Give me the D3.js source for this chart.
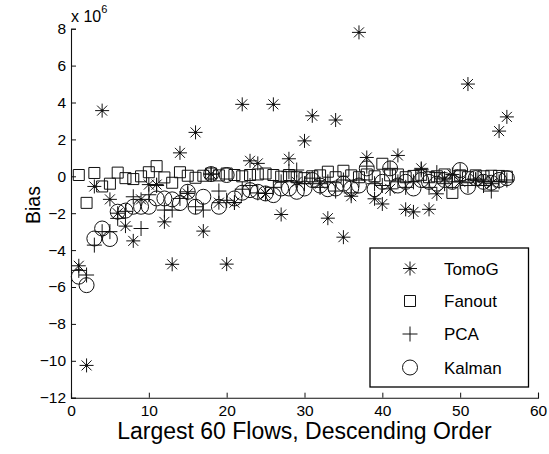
<!DOCTYPE html>
<html>
<head>
<meta charset="utf-8">
<script src="https://cdn.jsdelivr.net/npm/d3@7"></script>
<style>
  html, body { margin: 0; padding: 0; background: #fff; }
  svg { display: block; font-family: "Liberation Sans", Arial, Helvetica, sans-serif; }
</style>
</head>
<body>
<svg id="chart" width="549" height="454"></svg>
<script>
// Bias (in units of 1e6) of each estimator for the largest flows, in descending order
const flows = d3.range(1, 57);

const tomoG = [
  -4.85, -10.25, -0.55, 3.56, -1.25, -2.0, -2.7, -3.5, -1.25, -0.45,
  -0.45, -2.47, -4.77, 1.27, -0.93, 2.38, -2.97, 0.12, -1.43, -4.76,
  -1.43, 3.9, 0.84, 0.7, -0.93, 3.9, -2.07, 0.95, -0.3, 1.92,
  3.28, -0.4, -2.27, 3.05, -3.3, -1.08, 7.8, 1.02, -1.22, -1.5,
  -0.68, 1.13, -1.79, -1.93, 0.43, -1.79, -0.95, -0.1, 0.1, -0.3,
  5.0, -0.15, -0.3, -0.4, 2.45, 3.22
];

const fanout = [
  0.07, -1.44, 0.18, -0.55, -0.4, 0.2, -0.1, -0.15, 0.0, 0.22,
  0.55, -0.06, -0.35, 0.22, 0.03, -0.08, 0.03, 0.15, 0.05, 0.15,
  0.07, 0.0, 0.07, 0.1, 0.15, 0.07, -0.02, 0.07, -0.05, -0.1,
  0.0, 0.05, 0.25, -0.05, 0.3, 0.05, -0.05, 0.1, 0.0, 0.68,
  0.05, 0.1, -0.05, 0.02, 0.08, -0.05, 0.0, 0.1, -0.9, 0.05,
  -0.05, 0.05, 0.0, 0.03, 0.02, -0.02
];

const pca = [
  -5.1, -5.35, -3.73, -3.0, -3.0, -2.28, -1.9, -1.11, -2.83, -1.0,
  -0.5, -1.83, -1.83, -1.2, -0.84, -1.65, -1.83, 0.12, -0.8, -1.3,
  -1.42, -0.7, -0.5, -0.9, -0.93, -0.6, -0.3, 0.25, 0.34, -0.4,
  -0.1, -0.6, -0.3, -0.8, -0.2, -0.9, -0.2, 0.55, -0.4, -0.5,
  0.43, -0.3, -0.6, -0.3, 0.35, -0.6, 0.2, -0.4, -0.3, 0.3,
  -0.5, -0.2, -0.5, -0.8, -0.3, -0.2
];

const kalman = [
  -5.44, -5.9, -3.37, -2.83, -3.4, -1.92, -1.86, -1.65, -1.65, -1.65,
  -1.2, -1.2, -1.25, -1.45, -0.84, -1.65, -1.11, 0.12, -1.65, 0.07,
  -1.2, -0.89, -0.75, -0.84, -0.93, -1.02, -0.66, -0.66, -0.84, -0.66,
  -0.2, -0.5, -0.7, -0.66, -0.4, -0.66, -0.5, 0.43, -0.7, -0.3,
  0.43, -0.5, -0.3, -0.66, -0.2, -0.3, -0.4, -0.2, -0.3, 0.34,
  -0.57, -0.1, -0.3, -0.35, -0.2, -0.1
];

const seriesNames = ["TomoG", "Fanout", "PCA", "Kalman"];
const seriesValues = [tomoG, fanout, pca, kalman];
const markerKinds = ["star", "square", "plus", "circle"];

const xTicks = [0, 10, 20, 30, 40, 50, 60];
const yTicks = [-12, -10, -8, -6, -4, -2, 0, 2, 4, 6, 8];

const svg = d3.select("#chart");
const plotLeft = 71, plotRight = 538, plotTop = 28.7, plotBottom = 397.7;

const x = d3.scaleLinear().domain([0, 60]).range([plotLeft, plotRight]);
const y = d3.scaleLinear().domain([-12, 8]).range([plotBottom, plotTop]);

const ink = "#111";

// Axes: MATLAB style, ticks pointing inward
const gx = svg.append("g")
  .attr("transform", `translate(0,${plotBottom})`)
  .call(d3.axisBottom(x).tickValues(xTicks).tickSize(-5).tickPadding(7)
        .tickFormat(d3.format("d")));
const gy = svg.append("g")
  .attr("transform", `translate(${plotLeft},0)`)
  .call(d3.axisLeft(y).tickValues(yTicks).tickSize(-5).tickPadding(5)
        .tickFormat(d => d < 0 ? "\u2212" + Math.abs(d) : String(d)));

[gx, gy].forEach(g => {
  g.select(".domain").attr("stroke", ink).attr("stroke-width", 1.1);
  g.selectAll(".tick line").attr("stroke", ink).attr("stroke-width", 1);
  g.selectAll(".tick text").attr("fill", "#000")
    .style("font-size", "15.5px")
    .style("font-family", "'Liberation Sans', Arial, sans-serif");
});

// Exponent note
const expo = svg.append("text").attr("x", 71).attr("y", 21.5)
  .style("font-size", "16px").attr("fill", "#000");
expo.append("tspan").text("x 10");
expo.append("tspan").attr("dy", -9).style("font-size", "11px").text("6");

// Axis titles
svg.append("text")
  .attr("x", (plotLeft + plotRight) / 2).attr("y", 439)
  .attr("text-anchor", "middle")
  .style("font-size", "23px").attr("fill", "#000")
  .text("Largest 60 Flows, Descending Order");
svg.append("text")
  .attr("transform", "translate(40,205) rotate(-90)")
  .attr("text-anchor", "middle")
  .style("font-size", "19.5px").attr("fill", "#000")
  .text("Bias");

// Marker path generators, centred on (0,0)
function markerPath(kind) {
  const p = d3.path();
  if (kind === "star") {
    const r = 7, d = 5;
    p.moveTo(-r, 0); p.lineTo(r, 0);
    p.moveTo(0, -r); p.lineTo(0, r);
    p.moveTo(-d, -d); p.lineTo(d, d);
    p.moveTo(-d, d); p.lineTo(d, -d);
  } else if (kind === "square") {
    const s = 5.5;
    p.rect(-s, -s, 2 * s, 2 * s);
  } else if (kind === "plus") {
    const r = 7.5;
    p.moveTo(-r, 0); p.lineTo(r, 0);
    p.moveTo(0, -r); p.lineTo(0, r);
  } else {
    const r = 7.5;
    p.moveTo(r, 0); p.arc(0, 0, r, 0, 2 * Math.PI);
  }
  return p.toString();
}

const plot = svg.append("g");
seriesValues.forEach((vals, si) => {
  const kind = markerKinds[si];
  const pts = flows.map((f, i) => ({ f, v: vals[i] }));
  const g = plot.append("g").attr("class", "series-" + kind);
  g.selectAll("path")
    .data(pts)
    .join("path")
    .attr("transform", d => `translate(${x(d.f)},${y(d.v)})`)
    .attr("d", markerPath(kind))
    .attr("fill", "none")
    .attr("stroke", ink)
    .attr("stroke-width", 1);
  if (kind === "star") {
    g.selectAll("circle")
      .data(pts)
      .join("circle")
      .attr("cx", d => x(d.f)).attr("cy", d => y(d.v))
      .attr("r", 1.3).attr("fill", ink);
  }
});

// Legend
const lg = svg.append("g");
lg.append("rect")
  .attr("x", 370).attr("y", 248).attr("width", 158.5).attr("height", 139)
  .attr("fill", "#fff").attr("stroke", "#000").attr("stroke-width", 1.3);
const rowY = [268.5, 301, 334, 367.5];
seriesNames.forEach((name, i) => {
  lg.append("path")
    .attr("transform", `translate(410,${rowY[i]})`)
    .attr("d", markerPath(markerKinds[i]))
    .attr("fill", "none").attr("stroke", ink).attr("stroke-width", 1);
  if (markerKinds[i] === "star") {
    lg.append("circle").attr("cx", 410).attr("cy", rowY[i]).attr("r", 1.3).attr("fill", ink);
  }
  lg.append("text")
    .attr("x", 444).attr("y", rowY[i] + 6)
    .style("font-size", "17px").attr("fill", "#000")
    .text(name);
});
</script>
</body>
</html>
